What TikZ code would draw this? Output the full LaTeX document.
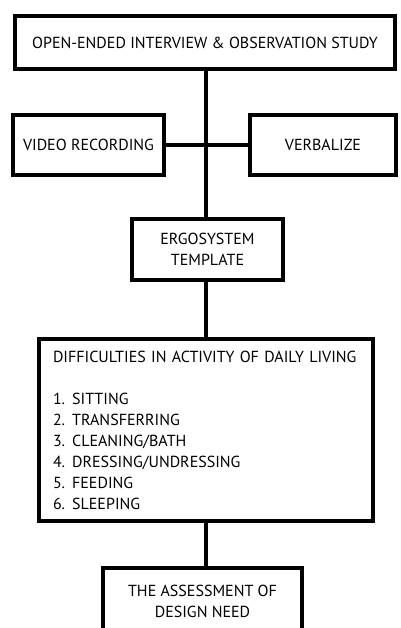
\documentclass[tikz,border=0pt]{standalone}
\usepackage{fontspec}
\setmainfont{PT Sans}
\begin{document}
\begin{tikzpicture}[x=1pt,y=-1pt,
    every node/.style={draw, line width=4.5pt, inner sep=0pt, align=center, font=\fontsize{16}{21}\selectfont},
    link/.style={line width=4.5pt}]
    \useasboundingbox (0,0) rectangle (400,628);
    \clip (0,0) rectangle (400,628);

    \node (study) at (205,42.5) [minimum width=380pt, minimum height=53pt] {OPEN-ENDED INTERVIEW \& OBSERVATION STUDY};

    \node (video) at (88.5,145) [minimum width=151pt, minimum height=60pt] {VIDEO RECORDING};
    \node (verbal) at (323,145) [minimum width=146pt, minimum height=60pt] {VERBALIZE};

    \node (ergo) at (207.5,249.5) [minimum width=151pt, minimum height=61pt] {ERGOSYSTEM\\TEMPLATE};

    \node (adl) at (206,430) [inner xsep=14pt, minimum height=182pt, text width=306pt, align=left] {DIFFICULTIES IN ACTIVITY OF DAILY LIVING\\[21pt]
        1.\kern-1pt{} SITTING\\
        2.\kern-1pt{} TRANSFERRING\\
        3.\kern-1pt{} CLEANING/BATH\\
        4.\kern-1pt{} DRESSING/UNDRESSING\\
        5.\kern-1pt{} FEEDING\\
        6.\kern-1pt{} SLEEPING};

    \node (need) at (202.5,608) [minimum width=199pt, minimum height=80pt] {};
    \node (needtext) at (202.5,601) [draw=none] {THE ASSESSMENT OF\\DESIGN NEED};

    % one vertical spine through all boxes
    \coordinate (spine) at (206,0);
    \draw[link] (study.south -| spine) -- (ergo.north -| spine);
    \draw[link] (video.east) -- (verbal.west);
    \draw[link] (ergo.south -| spine) -- (adl.north -| spine);
    \draw[link] (adl.south -| spine) -- (need.north -| spine);
\end{tikzpicture}
\end{document}
